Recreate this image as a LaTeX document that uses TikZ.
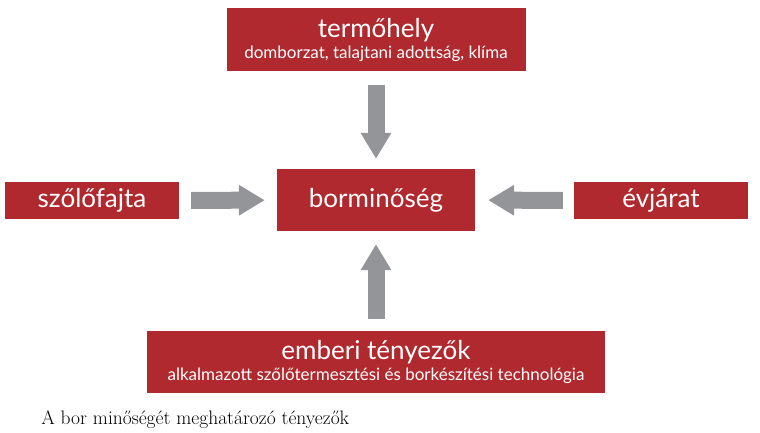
\documentclass[tikz,border=0pt]{standalone}
\usepackage{fontspec}
\newfontfamily\boxfont{Lato}
\usetikzlibrary{positioning,arrows.meta}
\definecolor{boxred}{HTML}{B0292E}
\definecolor{arrowgray}{HTML}{939598}
\tikzset{
  factor/.style={rectangle, fill=boxred, text=white, font=\boxfont, align=center, inner sep=0pt},
  bigarrow/.style={draw=arrowgray, line width=17pt, -{Triangle[width=29pt,length=26pt]}, arrowgray}
}
\newcommand{\bigline}[1]{{\fontsize{26}{26}\selectfont #1}}
\newcommand{\smallline}[1]{{\fontsize{17}{17}\selectfont #1}}
\begin{document}
\begin{tikzpicture}[x=1pt, y=1pt, node distance=160pt]
        \useasboundingbox (0,0) rectangle (760,433);
        % Quality
        \node[factor, minimum width=198pt, minimum height=62pt, font=\boxfont\fontsize{26}{28}\selectfont] (quality) at (376,233) {borminőség};
        
        % Site
        \node[factor, minimum width=299pt, minimum height=63pt, above of=quality, yshift=0.5pt] (site) {\bigline{termőhely}\\[3pt]\smallline{domborzat, talajtani adottság, klíma}};
        
        % Grape variety
        \node[factor, minimum width=174pt, minimum height=37pt, left of=quality, xshift=-124pt, yshift=-0.5pt, font=\boxfont\fontsize{26}{28}\selectfont] (grape) {szőlőfajta};
        
        % Vintage
        \node[factor, minimum width=174pt, minimum height=37pt, right of=quality, xshift=125pt, yshift=-0.5pt, font=\boxfont\fontsize{26}{28}\selectfont] (vintage) {évjárat};
        
        % Human factors
        \node[factor, minimum width=458pt, minimum height=62pt, below of=quality, yshift=-2pt] (human) {\bigline{emberi tényezők}\\[3pt]\smallline{alkalmazott szőlőtermesztési és borkészítési technológia}};
        
        % Caption
        \node[anchor=base west, font=\fontsize{19.5}{22}\selectfont] (caption) at ([xshift=-109pt, yshift=-31pt]human.south west) {A bor minőségét meghatározó tényezők};
        
        % Arrows
        \draw[bigarrow, shorten <=14pt, shorten >=10pt] (site) -- (quality);
        \draw[bigarrow, shorten <=12pt, shorten >=12pt] (grape) -- (quality);
        \draw[bigarrow, shorten <=11pt, shorten >=13pt] (vintage) -- (quality);
        \draw[bigarrow, shorten <=12pt, shorten >=13pt] (human) -- (quality);
    \end{tikzpicture}
\end{document}
